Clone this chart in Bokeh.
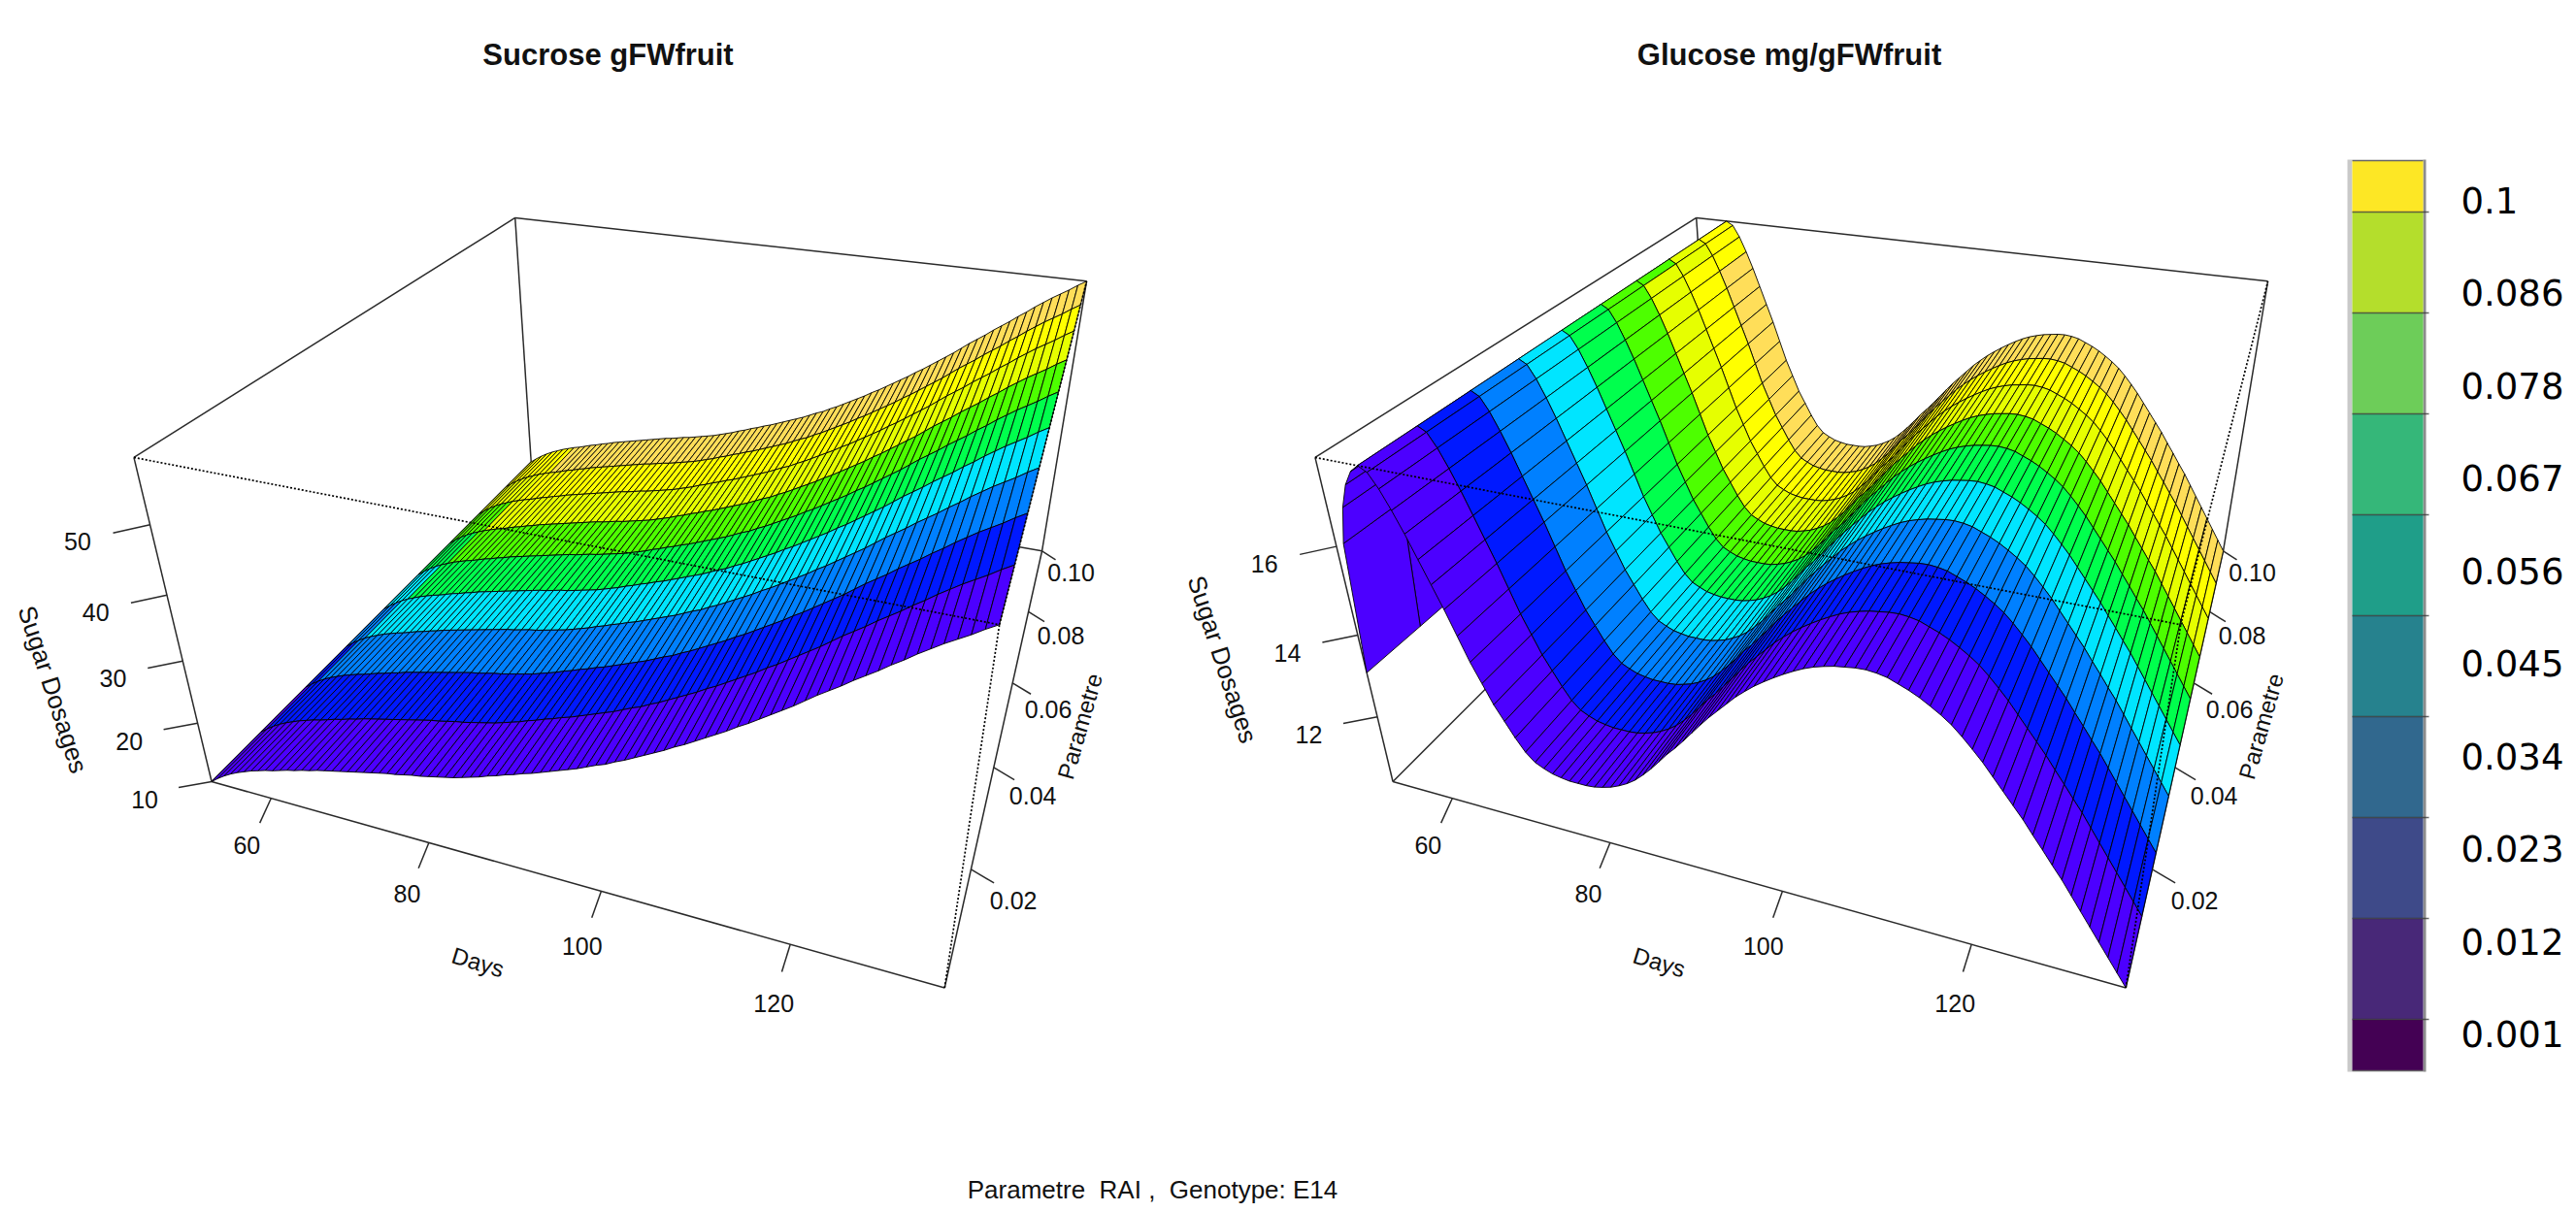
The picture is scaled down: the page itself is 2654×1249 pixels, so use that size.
from bokeh.plotting import figure
from bokeh.models import Range1d
from bokeh.embed import file_html
from bokeh.resources import INLINE
from bokeh.core.properties import value
import numpy as np

# ---------- data ----------
days = list(range(52, 136))
params = [0.001, 0.012, 0.023, 0.034, 0.045, 0.056, 0.067, 0.078, 0.089, 0.1]
sucrose = [10.0, 10.9, 11.7, 12.4, 13.0, 13.5, 14.0, 14.4, 14.8, 15.1, 15.5, 15.9, 16.2, 16.6, 16.9, 17.3,
           17.6, 17.9, 18.2, 18.5, 18.8, 19.1, 19.4, 19.7, 20.0, 20.2, 20.5, 20.8, 21.0, 21.3, 21.6, 21.9,
           22.2, 22.6, 23.0, 23.4, 23.9, 24.3, 24.8, 25.2, 25.7, 26.1, 26.6, 27.1, 27.6, 28.1, 28.6, 29.2,
           29.8, 30.3, 31.0, 31.6, 32.3, 33.0, 33.7, 34.4, 35.2, 35.9, 36.7, 37.5, 38.3, 39.1, 40.0, 40.8,
           41.7, 42.6, 43.5, 44.4, 45.4, 46.4, 47.3, 48.2, 49.2, 50.1, 51.0, 52.0, 52.9, 53.9, 54.8, 55.7,
           56.5, 57.3, 58.2, 59.0]
glucose = [13.1, 16.1, 16.9, 17.4, 17.7, 17.85, 17.75, 17.45, 17.05, 16.6, 16.1, 15.6, 15.1, 14.55, 14.0, 13.55,
           13.1, 12.75, 12.4, 12.1, 11.9, 11.8, 11.72, 11.68, 11.65, 11.65, 11.65, 11.67, 11.72, 11.78, 11.87, 11.98,
           12.12, 12.3, 12.5, 12.72, 12.95, 13.15, 13.37, 13.6, 13.83, 14.05, 14.25, 14.45, 14.65, 14.82, 14.98, 15.12,
           15.25, 15.37, 15.48, 15.58, 15.66, 15.72, 15.77, 15.8, 15.83, 15.84, 15.82, 15.78, 15.7, 15.62, 15.52, 15.4,
           15.27, 15.12, 14.93, 14.72, 14.5, 14.25, 14.0, 13.75, 13.5, 13.22, 12.95, 12.67, 12.4, 12.1, 11.8, 11.5,
           11.2, 10.9, 10.6, 10.3]
facet_colors = ["#4C00FF", "#0019FF", "#0080FF", "#00E5FF", "#00FF4D", "#4DFF00", "#E6FF00", "#FFFF00", "#FFDE59"]
day_ticks = [60, 80, 100, 120]
param_ticks = [0.02, 0.04, 0.06, 0.08, 0.10]
sucrose_ticks = [10, 20, 30, 40, 50]
glucose_ticks = [12, 14, 16]
legend_labels = ["0.001", "0.012", "0.023", "0.034", "0.045", "0.056", "0.067", "0.078", "0.086", "0.1"]
legend_colors = ["#440154", "#482878", "#3E4A89", "#31688E", "#26828E", "#1F9E89", "#35B779", "#6DCD59", "#B4DE2C", "#FDE725"]

# ---------- view: where the unit cube's corners fall on the page ----------
view_anchors = {(0, 0, 0): (218, 805), (1, 0, 0): (972, 1017), (0, 1, 0): (546, 476), (1, 1, 0): (1074, 567),
                (0, 0, 1): (137, 470), (1, 0, 1): (1030, 645), (0, 1, 1): (531, 224), (1, 1, 1): (1118, 289)}
rows, rhs = [], []
for (a, b, c), (sx, sy) in view_anchors.items():
    rows.append([a, b, c, 1, 0, 0, 0, 0, -sx * a, -sx * b, -sx * c]); rhs.append(sx)
    rows.append([0, 0, 0, 0, a, b, c, 1, -sy * a, -sy * b, -sy * c]); rhs.append(sy)
P = np.append(np.linalg.lstsq(np.array(rows, float), np.array(rhs, float), rcond=None)[0], 1.0).reshape(3, 4)


def proj(x, y, z, shift=0.0):
    w = P @ np.array([x, y, z, 1.0])
    return float(w[0] / w[2]) + shift, float(w[1] / w[2])


p = figure(width=2646, height=1241, x_range=Range1d(0, 2646), y_range=Range1d(1241, 0),
           x_axis_location=None, y_axis_location=None, toolbar_location=None,
           output_backend="svg", min_border=0, outline_line_color=None, background_fill_color="white")
p.grid.visible = False

FONT = value("Liberation Sans")
INK = "#2a2a2a"


def text(x, y, s, size, angle=0, style="normal", align="center", font=FONT, color="#111111"):
    p.text(x=[x], y=[y], text=[s], text_font=font, text_font_size=size, text_align=align, text_baseline="middle",
           angle=[angle], angle_units="deg", text_font_style=style, text_color=color)


def lerp(a, b, t):
    return a + (b - a) * t


def panel(z_values, z_ticks, title, title_x, shift, zlab_xy, zlim):
    d0, d1 = days[0], days[-1]
    p0, p1 = params[0], params[-1]
    z0, z1 = zlim
    U = lambda d: (d - d0) / (d1 - d0)
    V = lambda q: (q - p0) / (p1 - p0)
    W = lambda z: (z - z0) / (z1 - z0)

    def edges(segs, color=INK, **kw):
        xs, ys = [], []
        for a, b in segs:
            A, B = proj(*a, shift), proj(*b, shift)
            xs.append([A[0], B[0]]); ys.append([A[1], B[1]])
        p.multi_line(xs, ys, line_color=color, **kw)

    # back of the box
    edges([((0, 0, 0), (1, 0, 0)), ((0, 0, 0), (0, 1, 0)), ((0, 1, 0), (1, 1, 0)), ((1, 0, 0), (1, 1, 0)),
           ((0, 0, 0), (0, 0, 1)), ((0, 1, 0), (0, 1, 1)), ((1, 1, 0), (1, 1, 1)),
           ((0, 0, 1), (0, 1, 1)), ((0, 1, 1), (1, 1, 1))], line_width=1.5)

    # surface, far to near
    xs, ys, cols = [], [], []
    for i in range(len(days) - 1):
        for j in range(len(params) - 2, -1, -1):
            corners = [(i, j), (i + 1, j), (i + 1, j + 1), (i, j + 1)]
            pts = [proj(U(days[a]), V(params[b]), W(z_values[a]), shift) for a, b in corners]
            xs.append([q[0] for q in pts]); ys.append([q[1] for q in pts])
            # colours run over by one cell per band, as in the reference
            cols.append(facet_colors[j - 1 if i < j else j])
    p.patches(xs, ys, fill_color=cols, line_color="#000000", line_width=0.9)

    # front of the box, dotted over the surface
    edges([((0, 0, 1), (1, 0, 1)), ((1, 0, 1), (1, 1, 1)), ((1, 0, 0), (1, 0, 1))],
          color="#000000", line_width=1.7, line_dash="2 2")

    # axes
    tx, ty = [], []
    for d in day_ticks:
        u = U(d)
        x, y = proj(u, 0, 0, shift)
        tx.append([x, x + lerp(-12, -8, u)]); ty.append([y, y + lerp(25, 29, u)])
        text(x + lerp(-26, -15, u), y + lerp(47, 64, u), str(d), "25px")
    for q in param_ticks:
        v = V(q)
        x, y = proj(1, v, 0, shift)
        tx.append([x, x + lerp(26, 14, v)]); ty.append([y, y + lerp(15, 9, v)])
        text(x + lerp(47, 30, v), y + lerp(34, 22, v), f"{q:.2f}", "25px")
    for z in z_ticks:
        w = W(z)
        x, y = proj(0, 0, w, shift)
        tx.append([x, x + lerp(-34, -39, w)]); ty.append([y, y + lerp(6, 9, w)])
        text(x + lerp(-69, -76, w), y + lerp(19, 17, w), str(z), "25px")
    p.multi_line(tx, ty, line_color=INK, line_width=1.5)

    text(title_x, 56, title, "31px", style="bold")
    text(492 + shift, 991, "Days", "24px", angle=-17)
    text(1112 + shift, 748, "Parametre", "24px", angle=74)
    text(zlab_xy[0], zlab_xy[1], "Sugar Dosages", "26px", angle=-72)


panel(sucrose, sucrose_ticks, "Sucrose gFWfruit", 626, 0, (54, 710), (10, 59))
panel(glucose, glucose_ticks, "Glucose mg/gFWfruit", 1843, 1217, (1259, 679), (10.3, 17.85))

text(1187, 1225, "Parametre\u00a0 RAI ,\u00a0 Genotype: E14", "26px")

# legend colour bar
L, R = 2423, 2496
p.quad(left=[2418], right=[2423], top=[164], bottom=[1104], fill_color="#C9C9C9", line_color=None)
p.quad(left=[2496], right=[2499], top=[164], bottom=[1104], fill_color="#8C8C8C", line_color=None)
tops = [1050, 946, 842, 738, 634, 530, 426, 322, 218, 165]
bots = [1103, 1050, 946, 842, 738, 634, 530, 426, 322, 218]
p.quad(left=L, right=R, top=tops, bottom=bots, fill_color=legend_colors, line_color=None)
p.segment(x0=[L] * 9, x1=[R + 6] * 9, y0=tops[:9], y1=tops[:9], line_color="#333333", line_alpha=0.75, line_width=1.5)
p.segment(x0=[L, L], x1=[R, R], y0=[165, 1103], y1=[165, 1103], line_color="#666666", line_width=1.5)
for k, lab in enumerate(legend_labels):
    text(2535, 1065 - 95.5 * k, lab, "37px", align="left", font=value("DejaVu Sans"), color="#000000")

open("out.html", "w").write(file_html(p, INLINE))
